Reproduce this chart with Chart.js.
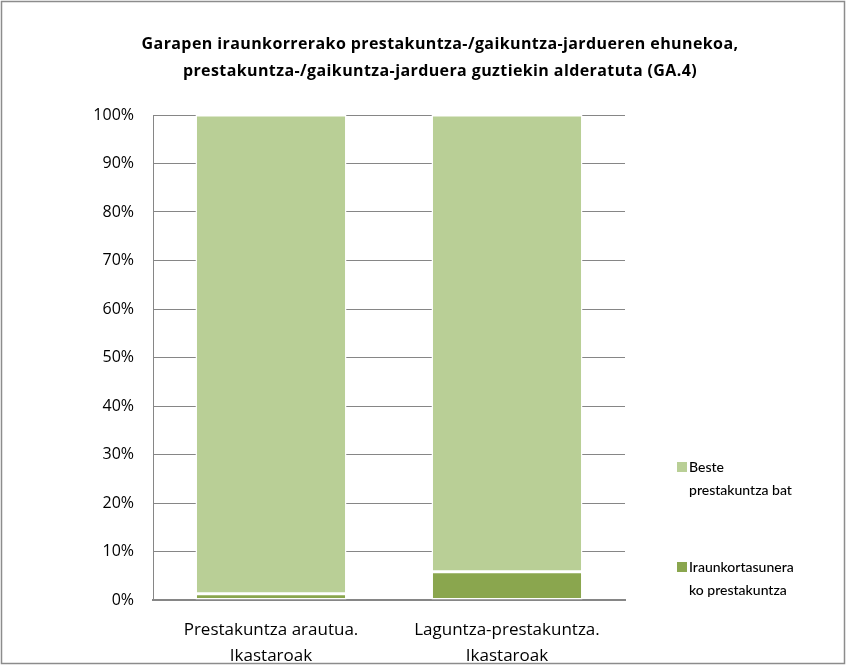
<!DOCTYPE html>
<html>
<head>
<meta charset="utf-8">
<script src="https://cdn.jsdelivr.net/npm/chart.js@4"></script>
<style>
  html, body { margin: 0; padding: 0; background: #fff; overflow: hidden; }
  #wrap { width: 847px; height: 666px; }
  canvas { display: block; }
</style>
</head>
<body>
<div id="wrap"><canvas id="ga4-chart" width="847" height="666"></canvas></div>
<script>
const categories = [['Prestakuntza arautua.', 'Ikastaroak'], ['Laguntza-prestakuntza.', 'Ikastaroak']];
const sustainable = [1.3, 5.8];      // Iraunkortasunera ko prestakuntza
const otherTraining = [98.7, 94.2];  // Beste prestakuntza bat
const yTicks = [0, 10, 20, 30, 40, 50, 60, 70, 80, 90, 100];
const titleLines = ['Garapen iraunkorrerako prestakuntza-/gaikuntza-jardueren ehunekoa,',
                    'prestakuntza-/gaikuntza-jarduera guztiekin alderatuta (GA.4)'];

const FONT = '"Open Sans", Lato, sans-serif';
const LEGEND_FONT = 'Lato, "Open Sans", sans-serif';

// frame, title and legend drawn by hand so they sit like the original
const decorations = {
    id: 'decorations',
    afterDraw(chart) {
        const c = chart.ctx;
        c.save();
        c.strokeStyle = '#8c8c8c';
        c.lineWidth = 1.5;
        c.strokeRect(1.5, 1.5, 843, 662);

        c.fillStyle = '#000';
        c.textAlign = 'center';
        c.textBaseline = 'middle';
        c.font = '700 16px ' + FONT;
        c.letterSpacing = '0.4px';
        titleLines.forEach((t, i) => c.fillText(t, 440, 44 + i * 27));
        c.letterSpacing = '0px';

        const items = [
            { ds: 1, lines: ['Beste', 'prestakuntza bat'], y: 467 },
            { ds: 0, lines: ['Iraunkortasunera', 'ko prestakuntza'], y: 567 }
        ];
        c.textAlign = 'left';
        c.font = '500 14px ' + LEGEND_FONT;
        items.forEach(it => {
            const d = chart.data.datasets[it.ds];
            c.fillStyle = d.backgroundColor;
            c.fillRect(677, it.y - 5, 10, 10);
            c.fillStyle = '#000';
            it.lines.forEach((t, i) => c.fillText(t, 689, it.y + i * 23));
        });
        c.restore();
    }
};

const ctx = document.getElementById('ga4-chart').getContext('2d');
const ga4Chart = new Chart(ctx, {
    type: 'bar',
    data: {
        labels: categories,
        datasets: [{
            label: 'Iraunkortasunera ko prestakuntza',
            data: sustainable,
            backgroundColor: '#8aa64e',
            borderColor: '#ffffff',
            borderWidth: 1.5,
            borderSkipped: false
        }, {
            label: 'Beste prestakuntza bat',
            data: otherTraining,
            backgroundColor: '#b9cf96',
            borderColor: '#ffffff',
            borderWidth: 1.5,
            borderSkipped: false
        }]
    },
    options: {
        responsive: false,
        animation: false,
        layout: {
            padding: { left: 10, right: 222, top: 115, bottom: 0 }
        },
        datasets: {
            bar: { categoryPercentage: 1, barPercentage: 0.64 }
        },
        plugins: {
            legend: { display: false },
            tooltip: { enabled: false },
            title: { display: false }
        },
        scales: {
            x: {
                stacked: true,
                grid: { display: false },
                border: { color: '#868686', width: 2 },
                ticks: {
                    color: '#000',
                    font: { family: FONT, size: 17, lineHeight: 1.55 },
                    padding: 9,
                    maxRotation: 0
                },
                afterFit(scale) { scale.height = 66; }
            },
            y: {
                stacked: true,
                min: 0,
                max: 100,
                afterBuildTicks(scale) { scale.ticks = yTicks.map(v => ({ value: v })); },
                grid: { color: '#868686', drawTicks: false },
                border: { color: '#868686', width: 1 },
                ticks: {
                    color: '#000',
                    font: { family: FONT, size: 16 },
                    padding: 19,
                    callback: v => v + '%'
                },
                afterFit(scale) { scale.width = 143; }
            }
        }
    },
    plugins: [decorations]
});
</script>
</body>
</html>
